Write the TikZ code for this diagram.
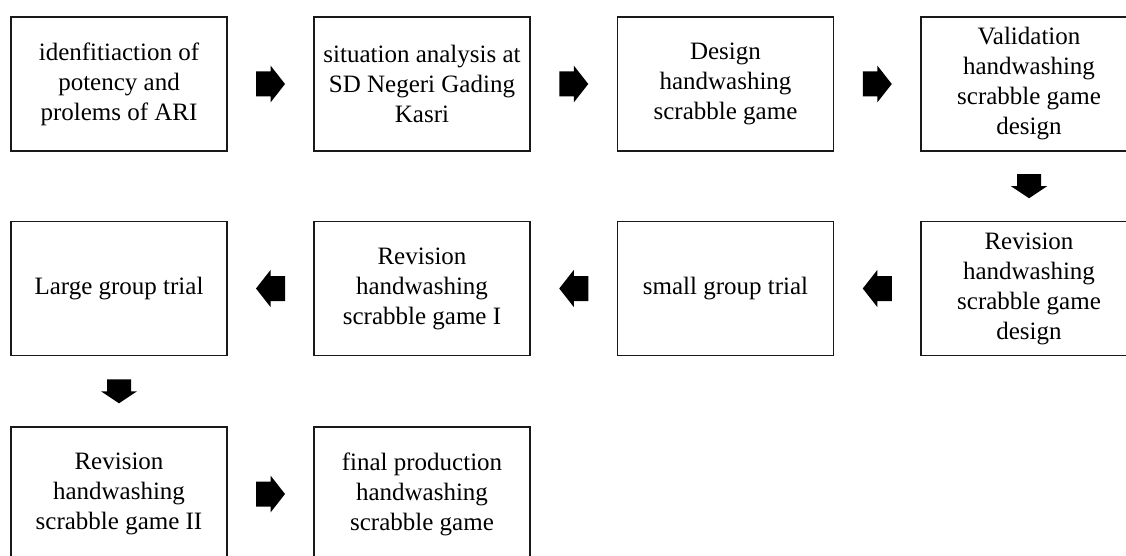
\documentclass[tikz,border=0pt]{standalone}
\usepackage{fontspec}
\setmainfont{Liberation Serif}
\usetikzlibrary{calc}
\tikzset{
  stepbox/.style={draw=black!90, line width=1.8pt, fill=white,
    minimum width=216pt, minimum height=134pt, inner sep=0pt,
    align=center, font=\fontsize{25}{30}\selectfont},
  harrow/.pic={\fill[black] (-14.5,-12.5) -- (0,-12.5) -- (0,-18.5) -- (14.5,0)
    -- (0,18.5) -- (0,12.5) -- (-14.5,12.5) -- cycle;},
  varrow/.pic={\fill[black] (-12,-12) -- (-12,0) -- (-18,0) -- (0,12)
    -- (18,0) -- (12,0) -- (12,-12) -- cycle;}
}
\begin{document}
\begin{tikzpicture}[x=1pt,y=-1pt]
\useasboundingbox (0,0) rectangle (1126,556);
\clip (0,0) rectangle (1126,556);
% row 1
\node[stepbox] (b1) at (119,84) {idenfitiaction of\\potency and\\prolems of ARI};
\node[stepbox] (b2) at (422,84) {situation analysis at\\SD Negeri Gading\\Kasri};
\node[stepbox] (b3) at (725.5,84) {Design\\handwashing\\scrabble game};
\node[stepbox] (b4) at (1029,84) {Validation\\handwashing\\scrabble game\\design};
% row 2
\node[stepbox] (c4) at (1029,288.5) {Revision\\handwashing\\scrabble game\\design};
\node[stepbox] (c3) at (725.5,288.5) {small group trial};
\node[stepbox] (c2) at (422,288.5) {Revision\\handwashing\\scrabble game I};
\node[stepbox] (c1) at (119,288.5) {Large group trial};
% row 3
\node[stepbox] (d1) at (119,494) {Revision\\handwashing\\scrabble game II};
\node[stepbox] (d2) at (422,494) {final production\\handwashing\\scrabble game};
% arrows
\coordinate (a12) at ($(b1.east)!0.5!(b2.west)$);
\coordinate (a23) at ($(b2.east)!0.5!(b3.west)$);
\coordinate (a34) at ($(b3.east)!0.5!(b4.west)$);
\coordinate (a4c) at ($(b4.south)!0.5!(c4.north)$);
\coordinate (ac43) at ($(c4.west)!0.5!(c3.east)$);
\coordinate (ac32) at ($(c3.west)!0.5!(c2.east)$);
\coordinate (ac21) at ($(c2.west)!0.5!(c1.east)$);
\coordinate (ac1d) at ($(c1.south)!0.5!(d1.north)$);
\coordinate (ad12) at ($(d1.east)!0.5!(d2.west)$);
\pic at (a12) {harrow};
\pic at (a23) {harrow};
\pic at (a34) {harrow};
\pic at (a4c) {varrow};
\pic[rotate=180] at (ac43) {harrow};
\pic[rotate=180] at (ac32) {harrow};
\pic[rotate=180] at (ac21) {harrow};
\pic at (ac1d) {varrow};
\pic at (ad12) {harrow};
\end{tikzpicture}
\end{document}
